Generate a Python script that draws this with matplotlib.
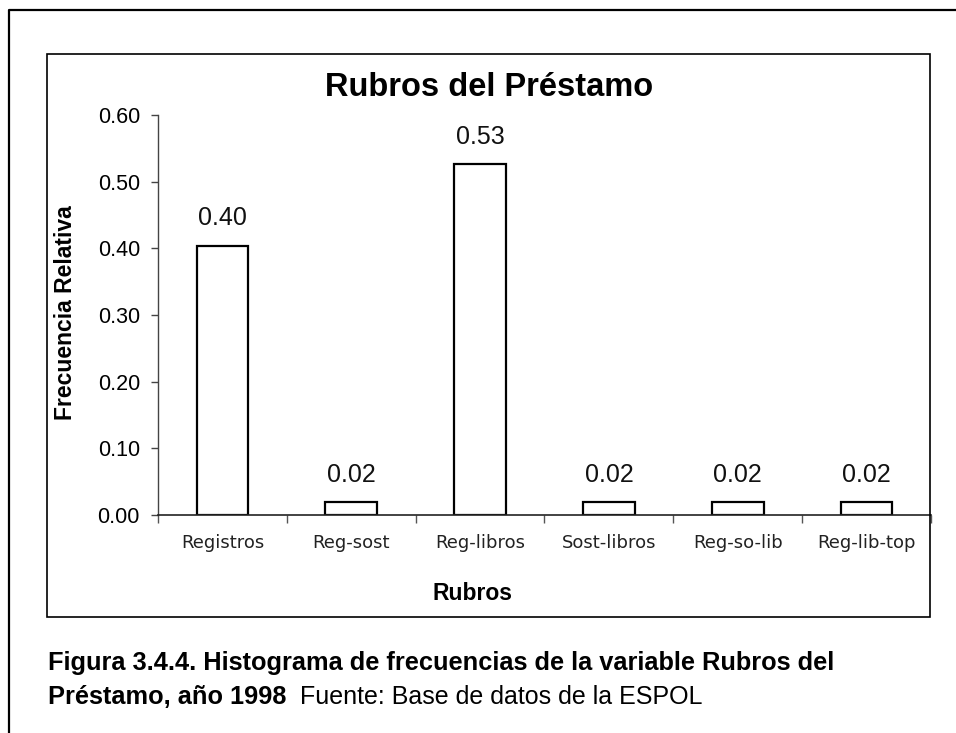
import numpy as np
import matplotlib
matplotlib.use("Agg")
import matplotlib.pyplot as plt
from matplotlib.patches import Rectangle
from matplotlib.lines import Line2D

# frecuencias relativas por rubro
rubros = ["Registros", "Reg-sost", "Reg-libros", "Sost-libros", "Reg-so-lib", "Reg-lib-top"]
frec_rel = [0.404, 0.019, 0.526, 0.019, 0.019, 0.019]
yticks = [0.0, 0.1, 0.2, 0.3, 0.4, 0.5, 0.6]

plt.rcParams["font.family"] = ["Liberation Sans", "DejaVu Sans"]

W, H = 956, 733
fig = plt.figure(figsize=(W / 100, H / 100), dpi=100)

# marco exterior (solo arriba e izquierda)
fig.add_artist(Line2D([9 / W, 9 / W, 1.0], [0.0, 1 - 10 / H, 1 - 10 / H],
                      transform=fig.transFigure, color="black", lw=1.6))
# marco del grafico
fig.add_artist(Rectangle((47 / W, 1 - 617 / H), (930 - 47) / W, (617 - 54) / H,
                         transform=fig.transFigure, fill=False, ec="black", lw=1.2))

ax = fig.add_axes([158 / W, 1 - 515 / H, (931 - 158) / W, (515 - 115) / H])
x = np.arange(len(rubros))
bars = ax.bar(x, frec_rel, width=0.4, color="white", edgecolor="black", linewidth=1.6)

for xi, v in zip(x, frec_rel):
    ax.annotate(f"{v:.2f}", (xi, v), xytext=(0, 11), textcoords="offset points",
                ha="center", va="bottom", fontsize=18, color="#111111")

ax.set_xlim(-0.5, len(rubros) - 0.5)
ax.set_ylim(0, 0.6)
ax.set_yticks(yticks)
ax.set_yticklabels([f"{t:.2f}" for t in yticks], fontsize=15.5)
ax.tick_params(axis="y", length=5, width=1, color="#444444", pad=8)

ax.set_xticks(x)
ax.set_xticklabels(rubros, fontsize=13, color="#222222", family="DejaVu Sans")
ax.tick_params(axis="x", length=0, pad=14)
ax.set_xticks(np.arange(-0.5, len(rubros)), minor=True)
ax.tick_params(axis="x", which="minor", length=6, width=1, color="#555555")

for s in ["top", "right"]:
    ax.spines[s].set_visible(False)
ax.spines["left"].set_color("#444444")
ax.spines["bottom"].set_color("#222222")
ax.spines["left"].set_linewidth(1.0)
ax.spines["bottom"].set_linewidth(1.2)

fig.text(489 / W, 1 - 87 / H, "Rubros del Préstamo", ha="center", va="center",
         fontsize=23.5, fontweight="bold")
fig.text(473 / W, 1 - 593 / H, "Rubros", ha="center", va="center",
         fontsize=16.5, fontweight="bold")
fig.text(66 / W, 1 - 313 / H, "Frecuencia Relativa", ha="center", va="center",
         rotation=90, fontsize=16.5, fontweight="bold")

# pie de figura
cap = ["Liberation Sans Narrow", "Liberation Sans"]
fig.text(48 / W, 1 - 670 / H,
         "Figura 3.4.4. Histograma de frecuencias de la variable Rubros del",
         ha="left", va="baseline", fontsize=18.3, fontweight="bold", family=cap)
t2 = fig.text(48 / W, 1 - 704 / H, "Préstamo, año 1998", ha="left", va="baseline",
              fontsize=18.3, fontweight="bold", family=cap)
fig.canvas.draw()
x_end = t2.get_window_extent().x1
fig.text((x_end + 14) / W, 1 - 704 / H, "Fuente: Base de datos de la ESPOL", ha="left",
         va="baseline", fontsize=18)

fig.savefig("out.png", dpi=100)
